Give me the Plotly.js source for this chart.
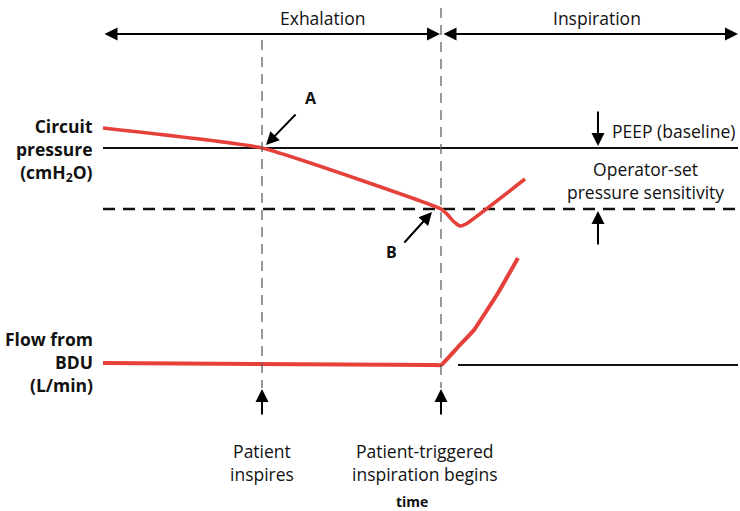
<!DOCTYPE html>
<html>
<head>
<meta charset="utf-8">
<script src="https://cdn.plot.ly/plotly-3.0.1.min.js"></script>
<style>
  body { margin: 0; background: #fff; }
  #chart { width: 740px; height: 511px; }
</style>
</head>
<body>
<div id="chart"></div>
<script>
// diagram space: x = time (left to right), y = drawing depth (top to bottom)
const pressureX = [103, 262, 441, 447, 453, 460, 466, 525];
const pressureY = [128, 148, 209, 214, 221, 226, 224, 179];
const flowX = [103, 432, 441, 458, 474, 498, 518];
const flowY = [363, 365, 365, 347, 330, 293, 258];
const peepX = [103, 738];
const peepY = [148, 148];
const sensX = [103, 738];
const sensY = [209, 209];
const flowBaseX = [458, 738];
const flowBaseY = [365, 365];
const eventX = [262, 441];
const eventTop = [40, 8];
const eventBottom = [388, 388];

const red = '#e5403a';
const font = 'Open Sans, Noto Sans, sans-serif';

const traces = [
    {x: peepX, y: peepY, mode: 'lines', line: {color: '#111', width: 2}},
    {x: sensX, y: sensY, mode: 'lines', line: {color: '#111', width: 2.5, dash: '12px,8px'}},
    {x: flowBaseX, y: flowBaseY, mode: 'lines', line: {color: '#111', width: 2}},
    {x: pressureX, y: pressureY, mode: 'lines', line: {color: red, width: 3.5, shape: 'spline', smoothing: 0.4}},
    {x: flowX, y: flowY, mode: 'lines', line: {color: red, width: 4, shape: 'spline', smoothing: 0.3}}
];
eventX.forEach((ex, i) => {
    traces.push({x: [ex, ex], y: [eventTop[i], eventBottom[i]], mode: 'lines',
        line: {color: '#555', width: 1.2, dash: '10px,7px'}});
});
traces.forEach(t => { t.hoverinfo = 'skip'; t.showlegend = false; t.type = 'scatter'; });

function arrow(x, y, ax, ay, both) {
    return {x: x, y: y, ax: ax, ay: ay, xref: 'x', yref: 'y', axref: 'x', ayref: 'y',
        text: '', showarrow: true, arrowhead: 2, arrowsize: 1.3, arrowwidth: 2,
        arrowcolor: '#000', arrowside: both ? 'end+start' : 'end', standoff: 0, startstandoff: 0};
}
function label(x, y, text, opts) {
    return Object.assign({x: x, y: y, xref: 'x', yref: 'y', text: text, showarrow: false,
        font: {family: font, size: 17.5, color: '#111'}, xanchor: 'center', yanchor: 'middle'}, opts || {});
}
const bold = {family: font, size: 17.5, color: '#111', weight: 'bold'};

const annotations = [
    arrow(440, 34, 103, 34, true),
    arrow(738, 34, 442, 34, true),
    arrow(266, 145, 297, 113),
    arrow(432, 212, 403, 244),
    arrow(598, 146, 598, 110),
    arrow(598, 211, 598, 246),
    arrow(262, 389, 262, 416),
    arrow(441, 389, 441, 416),
    label(322, 18, 'Exhalation'),
    label(597, 18, 'Inspiration'),
    label(311, 98, 'A', {font: Object.assign({}, bold, {size: 16})}),
    label(391, 252, 'B', {font: Object.assign({}, bold, {size: 16})}),
    label(610, 131, 'PEEP (baseline)', {xanchor: 'left'}),
    label(645, 180, 'Operator-set<br>pressure sensitivity'),
    label(95, 150, 'Circuit<br>pressure<br>(cmH<sub>2</sub>O)', {xanchor: 'right', align: 'right', font: bold}),
    label(95, 362, 'Flow from<br>BDU<br>(L/min)', {xanchor: 'right', align: 'right', font: bold}),
    label(262, 462, 'Patient<br>inspires'),
    label(424, 462, 'Patient-triggered<br>inspiration begins'),
    label(412, 501, 'time', {font: Object.assign({}, bold, {size: 14})})
];

const layout = {
    width: 740, height: 511,
    margin: {l: 0, r: 0, t: 0, b: 0},
    paper_bgcolor: '#fff', plot_bgcolor: '#fff',
    xaxis: {range: [0, 740], visible: false, fixedrange: true},
    yaxis: {range: [511, 0], visible: false, fixedrange: true},
    annotations: annotations,
    showlegend: false
};

Plotly.newPlot('chart', traces, layout, {displayModeBar: false, staticPlot: true});
</script>
</body>
</html>
